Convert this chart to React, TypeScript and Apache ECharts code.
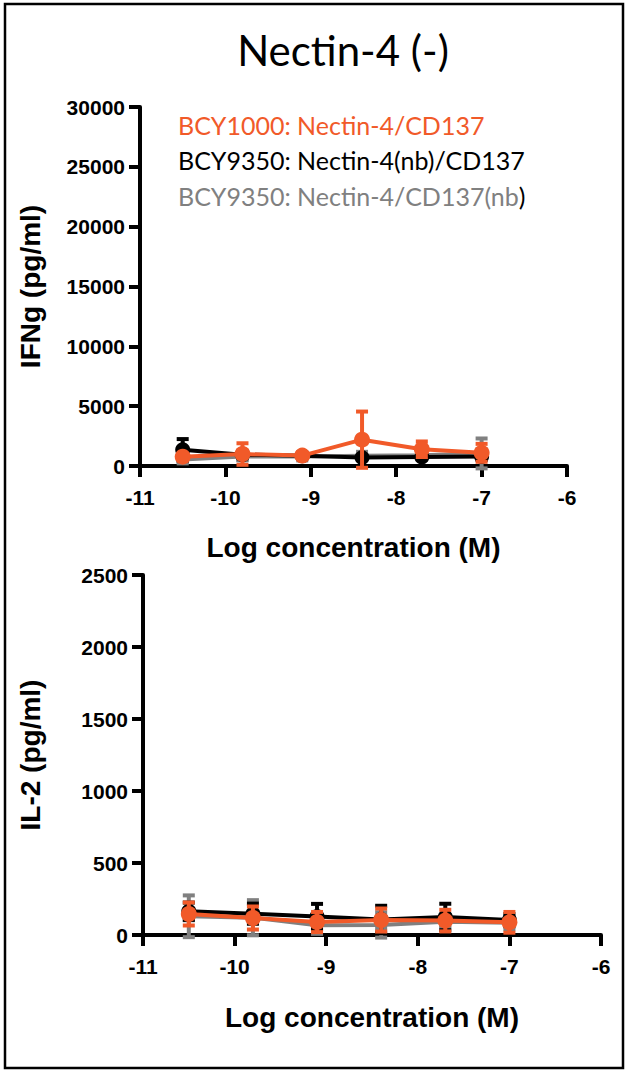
import React, { useEffect, useRef } from "react";
import * as echarts from "echarts";

const logConc = [-10.5, -9.8, -9.1, -8.4, -7.7, -7.0];

const ifngBcy1000 = [780, 1000, 870, 2200, 1400, 1100];
const ifngBcy1000Err = [200, 900, 100, 2350, 650, 750];
const ifngNbTarget = [1350, 950, 850, 700, 750, 800];
const ifngNbTargetErr = [900, 300, 150, 150, 200, 300];
const ifngNbCd137 = [550, 800, 800, 850, 900, 1050];
const ifngNbCd137Err = [250, 300, 150, 200, 300, 1250];

const il2Bcy1000 = [146, 118, 90, 104, 100, 88];
const il2Bcy1000Err = [80, 80, 70, 80, 75, 72];
const il2NbTarget = [165, 148, 128, 108, 125, 105];
const il2NbTargetErr = [60, 70, 88, 95, 92, 40];
const il2NbCd137 = [130, 120, 68, 70, 92, 85];
const il2NbCd137Err = [145, 122, 60, 88, 40, 45];

const xTicks = [-11, -10, -9, -8, -7, -6];
const ifngTicks = [0, 5000, 10000, 15000, 20000, 25000, 30000];
const il2Ticks = [0, 500, 1000, 1500, 2000, 2500];

const title = "Nectin-4 (-)";
const legendNames = [
  "BCY1000: Nectin-4/CD137",
  "BCY9350: Nectin-4(nb)/CD137",
  "BCY9350: Nectin-4/CD137(nb",
];
const colors = ["#F15A29", "#000000", "#808080"];

const AXIS_FONT = "'Liberation Sans', Arial, sans-serif";
const TEXT_FONT = "Lato, 'Open Sans', sans-serif";

function pairs(vals: number[]) {
  return logConc.map((x, i) => [x, vals[i]]);
}
function errData(vals: number[], err: number[]) {
  return logConc.map((x, i) => [x, vals[i], vals[i] - err[i], vals[i] + err[i]]);
}

function lineSeries(name: string, vals: number[], color: string, idx: number, symbol: string, size: number, z: number) {
  return {
    type: "line",
    name,
    xAxisIndex: idx,
    yAxisIndex: idx,
    data: pairs(vals),
    symbol,
    symbolSize: size,
    lineStyle: { color, width: 4 },
    itemStyle: { color, borderWidth: 0 },
    z,
  };
}

function errSeries(vals: number[], err: number[], color: string, idx: number, z: number) {
  return {
    type: "custom",
    xAxisIndex: idx,
    yAxisIndex: idx,
    data: errData(vals, err),
    z,
    renderItem: (params: any, api: any) => {
      const x = api.value(0);
      const lo = api.value(2);
      const hi = api.value(3);
      const pHi = api.coord([x, hi]);
      const pLo = api.coord([x, lo]);
      const w = 6;
      const style = { stroke: color, lineWidth: 4 };
      return {
        type: "group",
        children: [
          { type: "line", shape: { x1: pHi[0], y1: pHi[1], x2: pLo[0], y2: pLo[1] }, style },
          { type: "line", shape: { x1: pHi[0] - w, y1: pHi[1], x2: pHi[0] + w, y2: pHi[1] }, style },
          { type: "line", shape: { x1: pLo[0] - w, y1: pLo[1], x2: pLo[0] + w, y2: pLo[1] }, style },
        ],
      };
    },
  };
}

function xAxis(idx: number, gap: number) {
  return {
    type: "value",
    gridIndex: idx,
    min: xTicks[0],
    max: xTicks[xTicks.length - 1],
    interval: xTicks[1] - xTicks[0],
    name: "Log concentration (M)",
    nameLocation: "middle",
    nameGap: gap,
    nameTextStyle: { fontFamily: AXIS_FONT, fontWeight: "bold", fontSize: 28, color: "#000" },
    axisLine: { onZero: false, lineStyle: { color: "#000", width: 4 } },
    axisTick: { show: true, length: 11, lineStyle: { color: "#000", width: 4 } },
    axisLabel: { fontFamily: AXIS_FONT, fontWeight: "bold", fontSize: 21, color: "#000", margin: 21 },
    splitLine: { show: false },
  };
}

function yAxis(idx: number, name: string, ticks: number[], gap: number) {
  return {
    type: "value",
    gridIndex: idx,
    min: ticks[0],
    max: ticks[ticks.length - 1],
    interval: ticks[1] - ticks[0],
    name,
    nameLocation: "middle",
    nameGap: gap,
    nameTextStyle: { fontFamily: AXIS_FONT, fontWeight: "bold", fontSize: 28, color: "#000" },
    axisLine: { show: true, onZero: false, lineStyle: { color: "#000", width: 4 } },
    axisTick: { show: true, length: 11, lineStyle: { color: "#000", width: 4 } },
    axisLabel: {
      fontFamily: AXIS_FONT,
      fontWeight: "bold",
      fontSize: 21,
      color: "#000",
      margin: 15,
      formatter: (v: number) => String(v),
    },
    splitLine: { show: false },
  };
}

export default function App() {
  const ref = useRef<HTMLDivElement>(null);
  useEffect(() => {
    if (!ref.current) return;
    const chart = echarts.init(ref.current, null, { renderer: "svg" });
    const option: any = {
      animation: false,
      backgroundColor: "#fff",
      grid: [
        { left: 140, top: 107, width: 427, height: 359 },
        { left: 143, top: 575, width: 458, height: 360 },
      ],
      xAxis: [xAxis(0, 67), xAxis(1, 68)],
      yAxis: [yAxis(0, "IFNg (pg/ml)", ifngTicks, 96), yAxis(1, "IL-2 (pg/ml)", il2Ticks, 99)],
      series: [
        errSeries(ifngNbCd137, ifngNbCd137Err, colors[2], 0, 2),
        lineSeries(legendNames[2], ifngNbCd137, colors[2], 0, "rect", 12, 3),
        errSeries(ifngNbTarget, ifngNbTargetErr, colors[1], 0, 4),
        lineSeries(legendNames[1], ifngNbTarget, colors[1], 0, "circle", 15, 5),
        errSeries(ifngBcy1000, ifngBcy1000Err, colors[0], 0, 6),
        lineSeries(legendNames[0], ifngBcy1000, colors[0], 0, "circle", 16, 7),

        errSeries(il2NbCd137, il2NbCd137Err, colors[2], 1, 2),
        lineSeries(legendNames[2], il2NbCd137, colors[2], 1, "rect", 12, 3),
        errSeries(il2NbTarget, il2NbTargetErr, colors[1], 1, 4),
        lineSeries(legendNames[1], il2NbTarget, colors[1], 1, "circle", 15, 5),
        errSeries(il2Bcy1000, il2Bcy1000Err, colors[0], 1, 6),
        lineSeries(legendNames[0], il2Bcy1000, colors[0], 1, "circle", 16, 7),
      ],
      graphic: [
        {
          type: "rect",
          shape: { x: 5, y: 4, width: 618, height: 1064 },
          style: { fill: "none", stroke: "#000", lineWidth: 2.5 },
          silent: true,
        },
        {
          type: "text",
          x: 343,
          y: 50,
          style: {
            text: title,
            fontFamily: TEXT_FONT,
            fontSize: 42,
            fill: "#000",
            align: "center",
            verticalAlign: "middle",
          },
        },
        {
          type: "text",
          x: 178,
          y: 125,
          style: { text: legendNames[0], fontFamily: TEXT_FONT, fontSize: 25, fill: colors[0], verticalAlign: "middle" },
        },
        {
          type: "text",
          x: 178,
          y: 160,
          style: { text: legendNames[1], fontFamily: TEXT_FONT, fontSize: 25, fill: colors[1], verticalAlign: "middle" },
        },
        {
          type: "text",
          x: 178,
          y: 196,
          style: {
            text: "{g|" + legendNames[2] + "}{k|)}",
            fontFamily: TEXT_FONT,
            fontSize: 25,
            verticalAlign: "middle",
            rich: {
              g: { fontFamily: TEXT_FONT, fontSize: 25, fill: colors[2], color: colors[2] },
              k: { fontFamily: TEXT_FONT, fontSize: 25, fill: "#000", color: "#000" },
            },
          },
        },
      ],
    };
    chart.setOption(option);
    return () => chart.dispose();
  }, []);
  return (
    <div
      ref={ref}
      style={{ position: "absolute", left: 0, top: 0, width: 628, height: 1074, background: "#fff" }}
    />
  );
}
